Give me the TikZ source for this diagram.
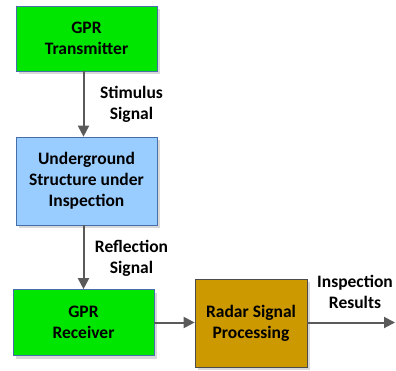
\documentclass[tikz,border=0pt]{standalone}
\usepackage{fontspec}
\setmainfont{Carlito}
\usetikzlibrary{arrows.meta,positioning,shadows}

\definecolor{gprgreen}{RGB}{0,230,0}
\definecolor{soilblue}{RGB}{153,204,255}
\definecolor{dspgold}{RGB}{204,153,0}
\definecolor{edgeblue}{RGB}{70,110,170}
\definecolor{flowgray}{RGB}{90,90,90}

\begin{document}
\begin{tikzpicture}[
  x=1pt, y=-1pt,
  font=\bfseries\fontsize{17.5}{21}\selectfont,
  myblock/.style={
    draw=#1,
    line width=0.7pt,
    align=center,
    inner sep=0pt,
    drop shadow={shadow xshift=3pt, shadow yshift=-3pt, fill=black!25, opacity=0.6}
    },
  myflow/.style={
    draw=flowgray,
    line width=2pt,
    -{Triangle[width=11pt,length=11pt]}
    },
  mylabel/.style={
    align=center,
    inner sep=0pt
  }
]
\useasboundingbox (0,0) rectangle (396,370);

\node[myblock=edgeblue, fill=gprgreen, minimum width=141pt, minimum height=65pt]
  (tx) at (86.5,38.5) {GPR\\Transmitter};
\node[myblock=edgeblue, fill=soilblue, minimum width=141pt, minimum height=88pt]
  (target) at (86.5,181) {Underground\\Structure under\\Inspection};
\node[myblock=edgeblue, fill=gprgreen, minimum width=141pt, minimum height=66pt]
  (rx) at (83.5,322.5) {GPR\\Receiver};
\node[myblock=black!70, fill=dspgold, minimum width=112pt, minimum height=88pt]
  (dsp) at (251,323) {Radar Signal\\Processing};
\coordinate (out) at (395,322.5);

\draw[myflow] (tx.south -| rx) -- (target.north -| rx);
\draw[myflow] (target.south -| rx) -- (rx.north);
\draw[myflow] (rx.east) -- (rx.east -| dsp.west);
\draw[myflow] (dsp.east |- out) -- (out);

\node[mylabel] (stim) at (131.5,104) {Stimulus\\Signal};
\node[mylabel] (refl) at (131.5,258) {Reflection\\Signal};
\node[mylabel] (res) at (355,292) {Inspection\\Results};

\end{tikzpicture}
\end{document}
